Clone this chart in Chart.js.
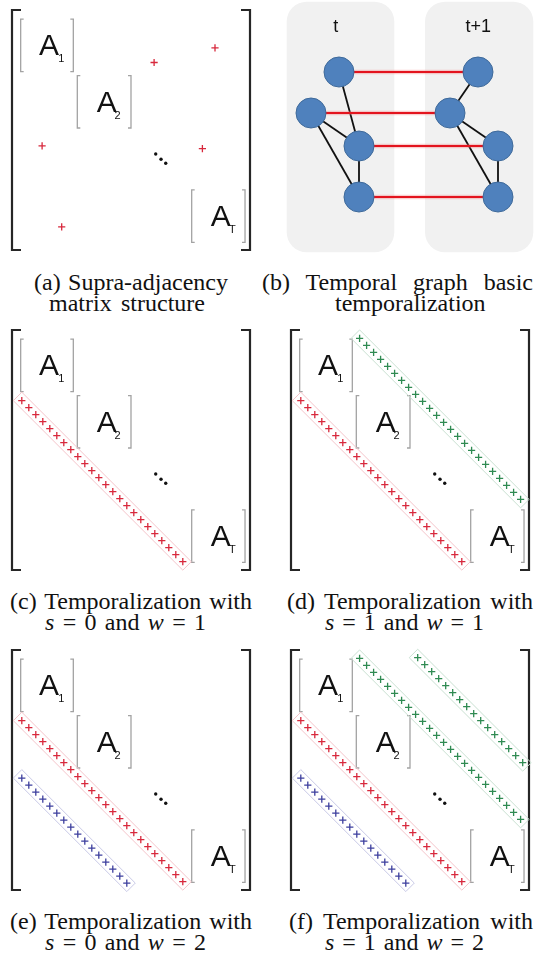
<!DOCTYPE html>
<html>
<head>
<meta charset="utf-8">
<script src="https://cdn.jsdelivr.net/npm/chart.js@4.4.1/dist/chart.umd.min.js"></script>
<style>
  html, body { margin:0; padding:0; background:#fff; }
  body { width:535px; height:965px; position:relative; overflow:hidden; }
  canvas { position:absolute; }
  .cap { position:absolute; font-family:"Liberation Serif","Times New Roman",serif; font-size:24px; line-height:21px;
         white-space:nowrap; color:#111; text-align:justify; text-align-last:justify; }
  .cap i { font-style:italic; }
</style>
</head>
<body>
<canvas id="pa" width="258" height="260" style="left:2px;top:0px"></canvas>
<canvas id="pb" width="265" height="260" style="left:270px;top:0px"></canvas>
<canvas id="pc" width="258" height="260" style="left:2px;top:320px"></canvas>
<canvas id="pd" width="258" height="260" style="left:281px;top:320px"></canvas>
<canvas id="pe" width="258" height="260" style="left:2px;top:640px"></canvas>
<canvas id="pf" width="258" height="260" style="left:281px;top:640px"></canvas>

<div class="cap" style="left:34px;top:272px;width:194px">(a) Supra-adjacency</div>
<div class="cap" style="left:49px;top:293px;width:156px">matrix structure</div>
<div class="cap" style="left:262px;top:272px;width:271px">(b) Temporal graph basic</div>
<div class="cap" style="left:335px;top:293px">temporalization</div>
<div class="cap" style="left:10px;top:591px;width:242px">(c) Temporalization with</div>
<div class="cap" style="left:45px;top:612px;width:161px"><i>s</i> = 0 and <i>w</i> = 1</div>
<div class="cap" style="left:287px;top:591px;width:246px">(d) Temporalization with</div>
<div class="cap" style="left:325px;top:612px;width:159px"><i>s</i> = 1 and <i>w</i> = 1</div>
<div class="cap" style="left:10px;top:911px;width:242px">(e) Temporalization with</div>
<div class="cap" style="left:45px;top:932px;width:161px"><i>s</i> = 0 and <i>w</i> = 2</div>
<div class="cap" style="left:289px;top:911px;width:244px">(f) Temporalization with</div>
<div class="cap" style="left:325px;top:932px;width:159px"><i>s</i> = 1 and <i>w</i> = 2</div>

<script>
// matrix cells (col,row) of the + marks
const scatterCols = [29.0, 20.3, 4.3, 27.2, 7.1];
const scatterRows = [5.4, 7.5, 19.4, 19.8, 31.0];

const redCols = [1.4,2.4,3.4,4.4,5.4,6.4,7.4,8.4,9.4,10.4,11.4,12.4,13.4,14.4,15.4,16.4,17.4,18.4,19.4,20.4,21.4,22.4,23.4,24.4];
const redRows = [10.1,11.1,12.1,13.1,14.1,15.1,16.1,17.1,18.1,19.1,20.1,21.1,22.1,23.1,24.1,25.1,26.1,27.1,28.1,29.1,30.1,31.1,32.1,33.1];

const greenCols = [9.8,10.8,11.8,12.8,13.8,14.8,15.8,16.8,17.8,18.8,19.8,20.8,21.8,22.8,23.8,24.8,25.8,26.8,27.8,28.8,29.8,30.8,31.8,32.8];
const greenRows = [1.2,2.2,3.2,4.2,5.2,6.2,7.2,8.2,9.2,10.2,11.2,12.2,13.2,14.2,15.2,16.2,17.2,18.2,19.2,20.2,21.2,22.2,23.2,24.2];

const green2Cols = [18.1,19.1,20.1,21.1,22.1,23.1,24.1,25.1,26.1,27.1,28.1,29.1,30.1,31.1,32.1,33.1];
const green2Rows = [1.1,2.1,3.1,4.1,5.1,6.1,7.1,8.1,9.1,10.1,11.1,12.1,13.1,14.1,15.1,16.1];

const blueCols = [1.4,2.4,3.4,4.4,5.4,6.4,7.4,8.4,9.4,10.4,11.4,12.4,13.4,14.4,15.4,16.4];
const blueRows = [18.3,19.3,20.3,21.3,22.3,23.3,24.3,25.3,26.3,27.3,28.3,29.3,30.3,31.3,32.3,33.3];

// temporal graph (panel b): nodes of snapshot t and t+1
const nodesTX = [69, 41, 89, 89];
const nodesTY = [72, 113, 146, 197];
const nodesT1X = [208, 180, 228, 228];
const nodesT1Y = [72, 113, 146, 197];
const edgesT = [[0,2],[1,2],[1,3],[2,3]];
const edgesT1 = [[0,1],[1,2],[1,3],[2,3]];
const temporalLinks = [[0,0],[1,1],[2,2],[3,3]];

const RED = '#d8283c', GREEN = '#2f8a52', BLUE = '#3d3f9e';
const PAD = 10, COLS = 34, ROWS = 34.29;

function pts(xs, ys){ return xs.map((x,i)=>({x:x, y:ys[i]})); }

// brackets, blocks, labels, dots, bands
const matrixDeco = {
  id: 'matrixDeco',
  beforeDatasetsDraw(chart){
    const c = chart.ctx, sx = chart.scales.x, sy = chart.scales.y;
    const X = v => sx.getPixelForValue(v), Y = v => sy.getPixelForValue(v);
    c.save();
    // outer brackets
    c.strokeStyle = '#262626'; c.lineWidth = 2.2; c.lineCap = 'butt';
    const l = X(0), r = X(COLS), t = Y(0), b = Y(ROWS);
    c.beginPath();
    c.moveTo(l+9, t); c.lineTo(l, t); c.lineTo(l, b); c.lineTo(l+9, b);
    c.moveTo(r-9, t); c.lineTo(r, t); c.lineTo(r, b); c.lineTo(r-9, b);
    c.stroke();
    // diagonal blocks
    const blocks = [
      {c0:1.24, c1:8.76, r0:1.29, r1:8.81, ax:3.86, ay:6.43, sx:6.6, sy:7.45, s:'1'},
      {c0:9.33, c1:17.0, r0:9.38, r1:16.86, ax:12.1, ay:14.53, sx:14.65, sy:15.57, s:'2'},
      {c0:25.67, c1:33.29, r0:25.71, r1:33.19, ax:28.39, ay:30.86, sx:31.0, sy:31.86, s:'T'}
    ];
    c.strokeStyle = '#a3a3a3'; c.lineWidth = 1.3;
    blocks.forEach(k => {
      const x0 = X(k.c0), x1 = X(k.c1), y0 = Y(k.r0), y1 = Y(k.r1);
      c.beginPath();
      c.moveTo(x0+3, y0); c.lineTo(x0, y0); c.lineTo(x0, y1); c.lineTo(x0+3, y1);
      c.moveTo(x1-3, y0); c.lineTo(x1, y0); c.lineTo(x1, y1); c.lineTo(x1-3, y1);
      c.stroke();
      c.fillStyle = '#111';
      c.textAlign = 'left'; c.textBaseline = 'alphabetic';
      c.font = '30px "Liberation Sans", Arial, sans-serif';
      c.fillText('A', X(k.ax), Y(k.ay));
      c.font = '11px "Liberation Sans", Arial, sans-serif';
      c.fillText(k.s, X(k.sx), Y(k.sy));
    });
    // dots
    c.fillStyle = '#111';
    [[20.53,20.57],[21.29,21.33],[21.96,21.9]].forEach(d => {
      c.beginPath(); c.arc(X(d[0]), Y(d[1]), 1.7, 0, Math.PI*2); c.fill();
    });
    // bands around diagonals
    chart.data.datasets.forEach(ds => {
      if (!ds.band) return;
      const p0 = ds.data[0], p1 = ds.data[ds.data.length-1];
      const ax = X(p0.x), ay = Y(p0.y), bx = X(p1.x), by = Y(p1.y);
      const len = Math.hypot(bx-ax, by-ay), ux = (bx-ax)/len, uy = (by-ay)/len;
      const e = 6, h = 6, nx = -uy, ny = ux;
      const sx0 = ax - ux*e, sy0 = ay - uy*e, ex = bx + ux*e, ey = by + uy*e;
      c.strokeStyle = ds.band; c.lineWidth = 1;
      c.beginPath();
      c.moveTo(sx0 + nx*h, sy0 + ny*h); c.lineTo(ex + nx*h, ey + ny*h);
      c.lineTo(ex - nx*h, ey - ny*h); c.lineTo(sx0 - nx*h, sy0 - ny*h);
      c.closePath(); c.stroke();
    });
    c.restore();
  }
};

function plusSet(xs, ys, color, band){
  return { data: pts(xs, ys), pointStyle:'cross', pointRadius:3.6, borderColor:color,
           backgroundColor:color, pointBorderWidth:1.3, borderWidth:1.3, band:band, clip:false };
}

function matrixChart(id, datasets){
  return new Chart(document.getElementById(id).getContext('2d'), {
    type: 'scatter',
    data: { datasets: datasets },
    options: {
      responsive:false, animation:false, events:[],
      layout:{ padding:PAD, autoPadding:false },
      plugins:{ legend:{display:false}, tooltip:{enabled:false} },
      scales:{
        x:{ type:'linear', min:0, max:COLS, display:false },
        y:{ type:'linear', min:0, max:ROWS, reverse:true, display:false }
      }
    },
    plugins:[matrixDeco]
  });
}

const redBand = '#f4c4ca', greenBand = '#c9e0d1', blueBand = '#c8c9e6';

matrixChart('pa', [plusSet(scatterCols, scatterRows, RED, null)]);
matrixChart('pc', [plusSet(redCols, redRows, RED, redBand)]);
matrixChart('pd', [plusSet(redCols, redRows, RED, redBand), plusSet(greenCols, greenRows, GREEN, greenBand)]);
matrixChart('pe', [plusSet(redCols, redRows, RED, redBand), plusSet(blueCols, blueRows, BLUE, blueBand)]);
matrixChart('pf', [plusSet(redCols, redRows, RED, redBand), plusSet(greenCols, greenRows, GREEN, greenBand),
                   plusSet(green2Cols, green2Rows, GREEN, greenBand), plusSet(blueCols, blueRows, BLUE, blueBand)]);

// panel b: temporal graph
const graphBg = {
  id:'graphBg',
  beforeDatasetsDraw(chart){
    const c = chart.ctx, sx = chart.scales.x, sy = chart.scales.y;
    const X = v => sx.getPixelForValue(v), Y = v => sy.getPixelForValue(v);
    c.save();
    c.fillStyle = '#f1f1f1';
    [[16.7,124.3],[155,263.3]].forEach(r => {
      c.beginPath();
      c.roundRect(X(r[0]), Y(1.7), X(r[1])-X(r[0]), Y(252.3)-Y(1.7), 20);
      c.fill();
    });
    c.fillStyle = '#111';
    c.font = '18px "Liberation Sans", Arial, sans-serif';
    c.textAlign = 'center'; c.textBaseline = 'middle';
    c.fillText('t', X(65.7), Y(27));
    c.fillText('t+1', X(208.3), Y(27));
    c.restore();
  }
};

const graphSets = [];
graphSets.push({ type:'scatter', data: pts(nodesTX.concat(nodesT1X), nodesTY.concat(nodesT1Y)),
  pointRadius:15, backgroundColor:'#4f81bd', borderColor:'#3f6a9a', pointBorderWidth:1, clip:false });
temporalLinks.forEach(e => graphSets.push({ type:'line',
  data:[{x:nodesTX[e[0]], y:nodesTY[e[0]]},{x:nodesT1X[e[1]], y:nodesT1Y[e[1]]}],
  borderColor:'#e3141e', borderWidth:2.2, pointRadius:0 }));
// faint halo under the red links
temporalLinks.forEach(e => graphSets.push({ type:'line',
  data:[{x:nodesTX[e[0]], y:nodesTY[e[0]]},{x:nodesT1X[e[1]], y:nodesT1Y[e[1]]}],
  borderColor:'rgba(240,120,120,0.35)', borderWidth:4.5, pointRadius:0 }));
edgesT.forEach(e => graphSets.push({ type:'line',
  data:[{x:nodesTX[e[0]], y:nodesTY[e[0]]},{x:nodesTX[e[1]], y:nodesTY[e[1]]}],
  borderColor:'#111', borderWidth:1.8, pointRadius:0 }));
edgesT1.forEach(e => graphSets.push({ type:'line',
  data:[{x:nodesT1X[e[0]], y:nodesT1Y[e[0]]},{x:nodesT1X[e[1]], y:nodesT1Y[e[1]]}],
  borderColor:'#111', borderWidth:1.8, pointRadius:0 }));

new Chart(document.getElementById('pb').getContext('2d'), {
  type:'scatter',
  data:{ datasets: graphSets },
  options:{
    responsive:false, animation:false, events:[],
    layout:{ padding:0, autoPadding:false },
    plugins:{ legend:{display:false}, tooltip:{enabled:false} },
    scales:{
      x:{ type:'linear', min:0, max:265, display:false },
      y:{ type:'linear', min:0, max:260, reverse:true, display:false }
    }
  },
  plugins:[graphBg]
});
</script>
</body>
</html>
